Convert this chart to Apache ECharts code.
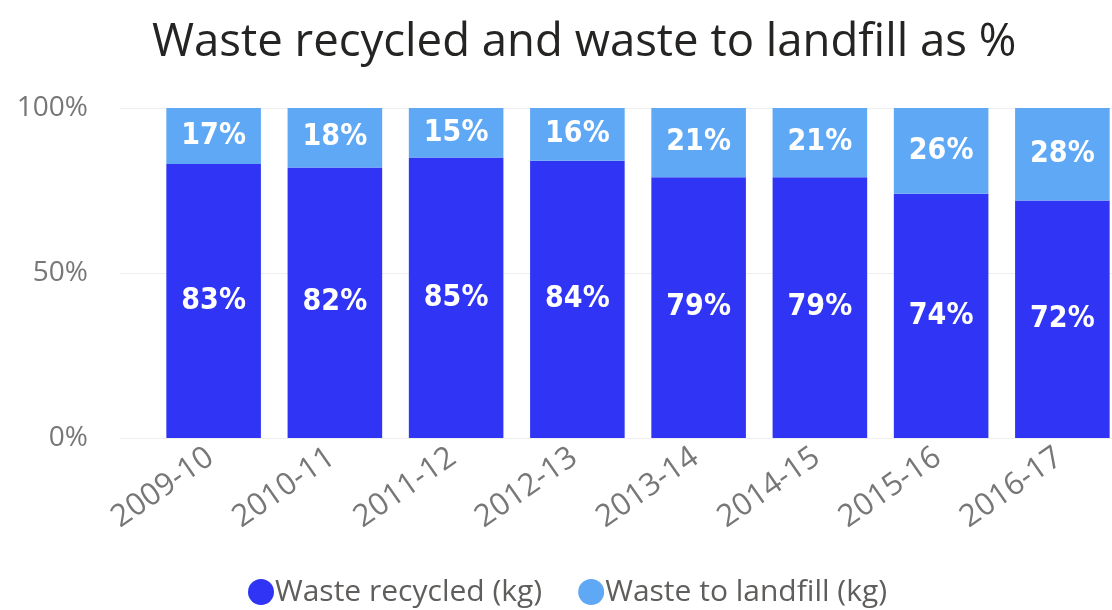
<!DOCTYPE html>
<html>
<head>
<meta charset="utf-8">
<script src="https://cdn.jsdelivr.net/npm/echarts@6/dist/echarts.min.js"></script>
<style>
  html, body { margin: 0; padding: 0; background: #fff; }
  #chart { width: 1112px; height: 610px; }
</style>
</head>
<body>
<div id="chart"></div>
<script>
// Financial years shown along the x axis
const years = ['2009-10', '2010-11', '2011-12', '2012-13', '2013-14', '2014-15', '2015-16', '2016-17'];
// Share of total waste (%) per year
const recycled = [83, 82, 85, 84, 79, 79, 74, 72];
const landfill = [17, 18, 15, 16, 21, 21, 26, 28];
// Value axis ticks
const yTicks = [0, 50, 100];

const DARK = '#3035f5';
const LIGHT = '#5fa8f5';

const chart = echarts.init(document.getElementById('chart'));

const labelStyle = {
  show: true,
  position: 'inside',
  formatter: '{c}%',
  color: '#ffffff',
  fontFamily: 'DejaVu Sans Condensed',
  fontWeight: 'bold',
  fontSize: 30
};

chart.setOption({
  animation: false,
  title: {
    text: 'Waste recycled and waste to landfill as %',
    left: 147,
    top: 15,
    textStyle: { fontFamily: 'Open Sans', fontWeight: 'normal', fontSize: 45.5, color: '#252423' }
  },
  legend: {
    top: 572,
    left: 243,
    icon: 'circle',
    itemWidth: 26,
    itemHeight: 26,
    itemGap: 36,
    textStyle: { fontFamily: 'Open Sans', fontSize: 30, color: '#605e5c', padding: [0, 0, 0, -4] },
    data: ['Waste recycled (kg)', 'Waste to landfill (kg)']
  },
  grid: [
    { left: 120, right: 0, top: 108, bottom: 172, outerBoundsMode: 'none' },
    // the category band runs slightly past the right edge, clipping the last bar
    { left: 153, width: 970, top: 108, bottom: 172, outerBoundsMode: 'none' }
  ],
  xAxis: [
    { gridIndex: 0, type: 'value', show: false, min: 0, max: 1 },
    {
      gridIndex: 1,
      type: 'category',
      data: years,
      axisLine: { show: false },
      axisTick: { show: false },
      axisLabel: {
        rotate: 35,
        margin: 14,
        padding: [0, 4, 0, 0],
        fontFamily: 'Open Sans',
        fontSize: 31,
        color: '#777777'
      }
    }
  ],
  yAxis: [
    {
      gridIndex: 0,
      type: 'value',
      min: yTicks[0],
      max: yTicks[yTicks.length - 1],
      interval: 50,
      axisLine: { show: false },
      axisTick: { show: false },
      axisLabel: {
        margin: 32,
        formatter: '{value}%',
        fontFamily: 'Open Sans',
        fontSize: 28,
        color: '#777777'
      },
      splitLine: { lineStyle: { color: '#eeeeee', width: 1 } }
    },
    { gridIndex: 1, type: 'value', min: 0, max: 100, show: false }
  ],
  series: [
    {
      name: 'Waste recycled (kg)',
      type: 'bar',
      stack: 'share',
      xAxisIndex: 1,
      yAxisIndex: 1,
      barCategoryGap: '22%',
      itemStyle: { color: DARK },
      label: labelStyle,
      data: recycled
    },
    {
      name: 'Waste to landfill (kg)',
      type: 'bar',
      stack: 'share',
      xAxisIndex: 1,
      yAxisIndex: 1,
      barCategoryGap: '22%',
      itemStyle: { color: LIGHT },
      label: labelStyle,
      data: landfill
    }
  ]
});
</script>
</body>
</html>
